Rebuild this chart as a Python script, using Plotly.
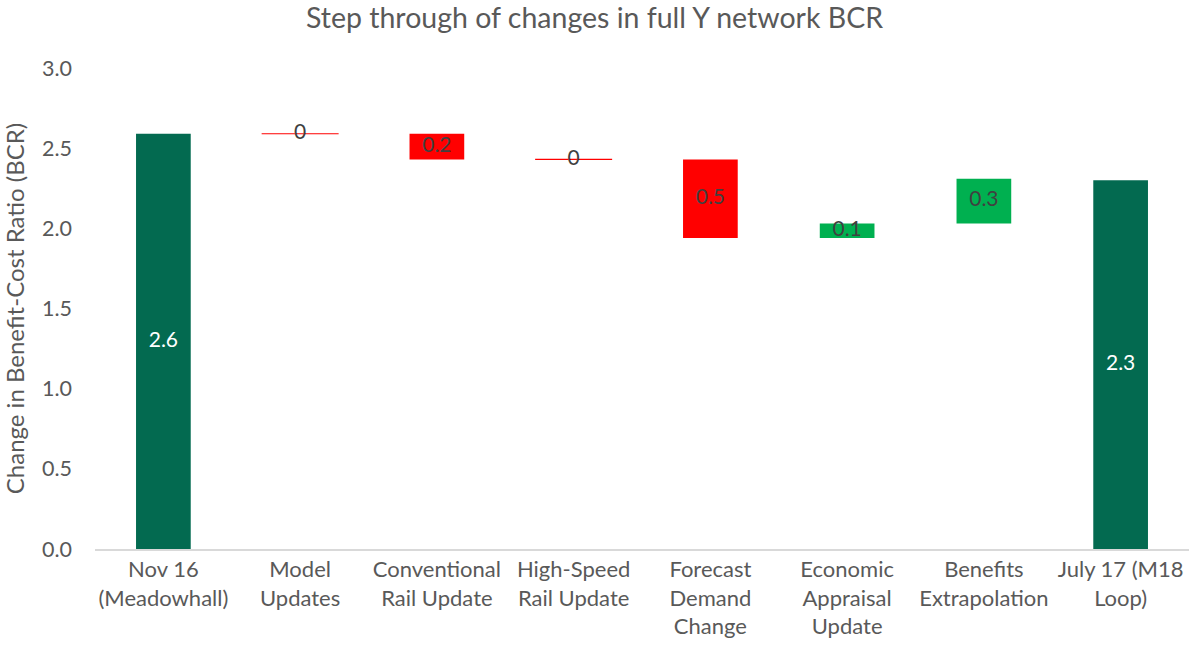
import plotly.graph_objects as go

categories = [
    "Nov 16<br>(Meadowhall)",
    "Model<br>Updates",
    "Conventional<br>Rail Update",
    "High-Speed<br>Rail Update",
    "Forecast<br>Demand<br>Change",
    "Economic<br>Appraisal<br>Update",
    "Benefits<br>Extrapolation",
    "July 17 (M18<br>Loop)",
]
bcr_start = 2.59
changes = [0.0, -0.16, 0.0, -0.49, 0.09, 0.28]
bcr_end = 2.30
y_ticks = [0.0, 0.5, 1.0, 1.5, 2.0, 2.5, 3.0]

TOTAL_C = "#036A50"
UP_C = "#00B050"
DOWN_C = "#FF0000"
FONT = "Lato"

bases, heights, colors, labels, label_colors = [], [], [], [], []
bases.append(0); heights.append(bcr_start); colors.append(TOTAL_C)
labels.append(f"{bcr_start:.1f}"); label_colors.append("white")
level = bcr_start
zero_x, zero_y = [], []
for cat, c in zip(categories[1:-1], changes):
    if c == 0:
        bases.append(level); heights.append(0); colors.append("rgba(0,0,0,0)")
        labels.append("0"); label_colors.append("#404040")
        zero_x.append(cat); zero_y.append(level)
    else:
        bases.append(level + min(c, 0)); heights.append(abs(c))
        colors.append(UP_C if c > 0 else DOWN_C)
        labels.append(f"{abs(c):.1f}"); label_colors.append("#404040")
    level += c
bases.append(0); heights.append(bcr_end); colors.append(TOTAL_C)
labels.append(f"{bcr_end:.1f}"); label_colors.append("white")

mid = [b + h / 2 for b, h in zip(bases, heights)]

fig = go.Figure()
fig.add_trace(go.Bar(
    x=categories, y=heights, base=bases, width=0.4,
    marker=dict(color=colors, line=dict(width=0)),
    hoverinfo="skip", showlegend=False,
))
fig.add_trace(go.Scatter(
    x=zero_x, y=zero_y, mode="markers",
    marker=dict(symbol="line-ew", size=55, line=dict(color=DOWN_C, width=1.2)),
    hoverinfo="skip", showlegend=False,
))
fig.add_trace(go.Scatter(
    x=categories, y=mid, mode="text", text=labels,
    textposition="middle center",
    textfont=dict(family=FONT, size=21, color=label_colors),
    hoverinfo="skip", showlegend=False,
))

fig.update_layout(
    width=1189, height=651,
    margin=dict(l=95, r=0, t=68, b=102),
    paper_bgcolor="white", plot_bgcolor="white",
    title=dict(text="Step through of changes in full Y network BCR",
               x=0.5, xref="container", xanchor="center", y=0.972, yanchor="middle",
               font=dict(family=FONT, size=28.5, color="#595959")),
    font=dict(family=FONT, color="#595959"),
    bargap=0.6,
)
fig.update_xaxes(
    showline=True, linecolor="#D9D9D9", linewidth=1.5,
    showgrid=False, ticks="", tickfont=dict(family=FONT, size=22, color="#595959"),
    tickangle=0,
)
fig.update_yaxes(
    range=[0, 3], tickvals=y_ticks, ticktext=[f"{v:.1f}" for v in y_ticks],
    showgrid=False, zeroline=False, showline=False, ticks="",
    ticklabelstandoff=22,
    tickfont=dict(family=FONT, size=21.5, color="#595959"),
    title=dict(text="Change in Benefit-Cost Ratio (BCR)", standoff=12,
               font=dict(family=FONT, size=24, color="#595959")),
)
fig.write_html(
    "out.html",
    config={"displayModeBar": False},
    post_script="document.body.style.margin='0';document.body.style.overflow='hidden';",
)
